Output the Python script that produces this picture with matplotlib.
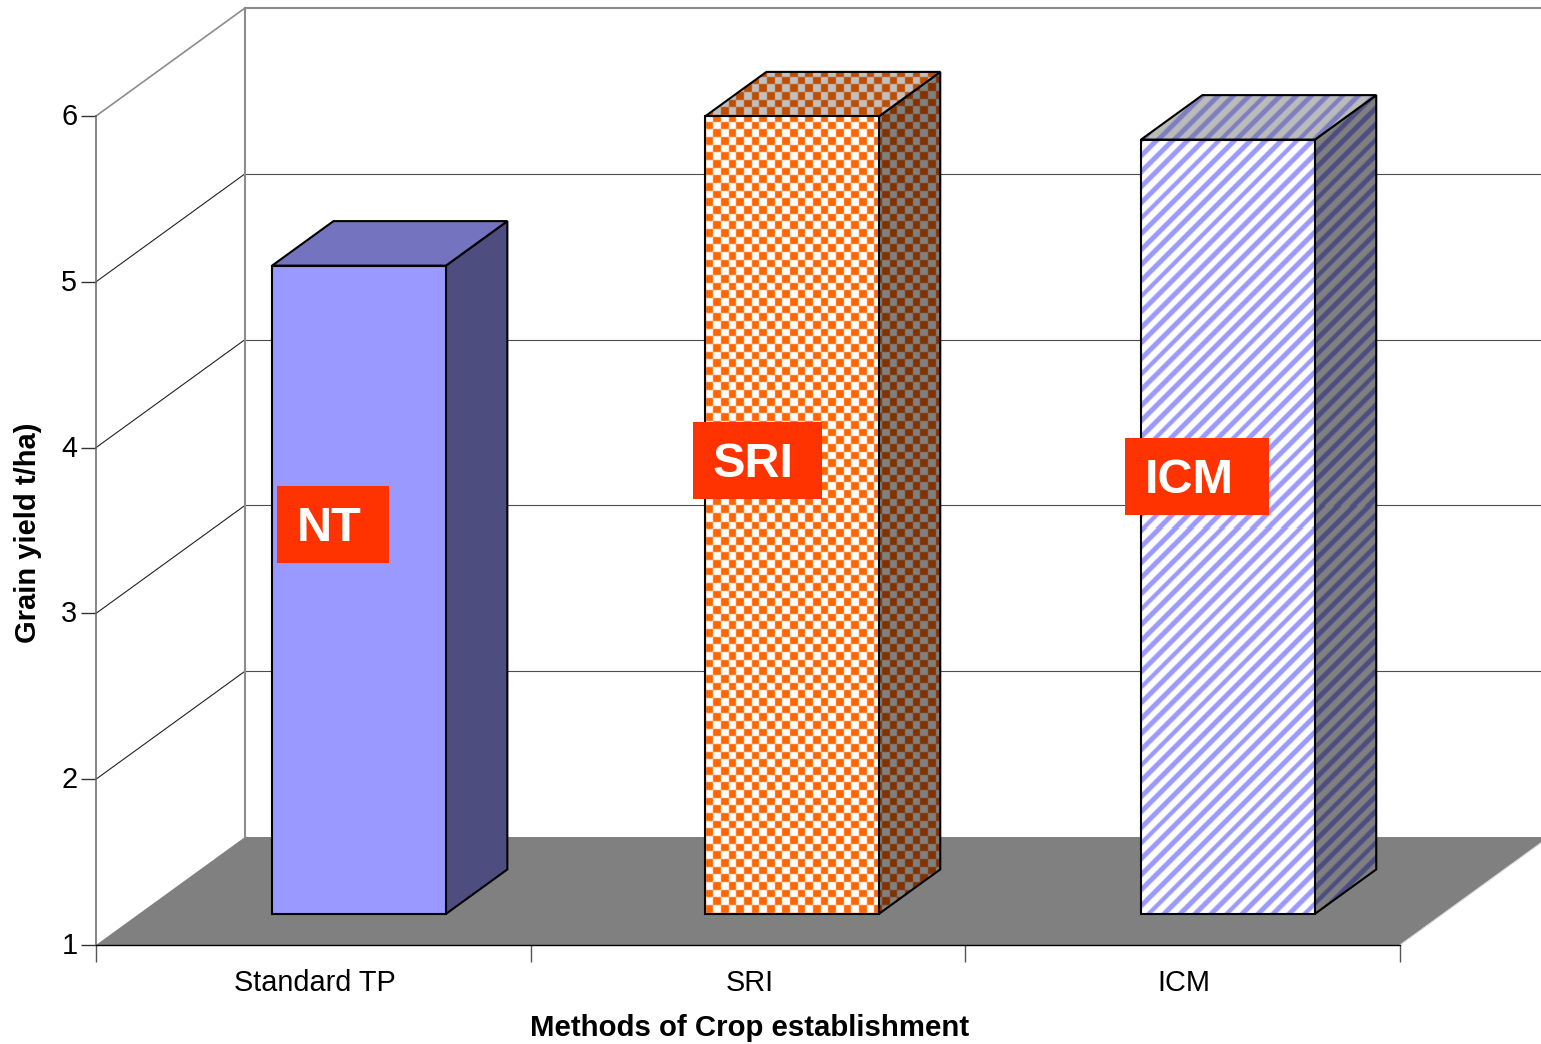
import numpy as np
import matplotlib
matplotlib.use("Agg")
import matplotlib.pyplot as plt
from matplotlib.patches import Polygon, Rectangle
from matplotlib.transforms import Affine2D, ScaledTranslation

plt.rcParams["font.family"] = ["Liberation Sans", "DejaVu Sans"]

categories = ["Standard TP", "SRI", "ICM"]
grain_yield = [4.91, 5.81, 5.67]
bar_tags = ["NT", "SRI", "ICM"]
y_ticks = [1, 2, 3, 4, 5, 6]

W, H = 1541, 1044
fig = plt.figure(figsize=(W / 100, H / 100), dpi=100, facecolor="white")
ax = fig.add_axes([96 / W, 1 - 945 / H, 1304 / W, 829 / H])
ax.set_xlim(0, 3)
ax.set_ylim(1, 6)
ax.patch.set_visible(False)

# Oblique projection: full floor depth expressed in data units
DEPTH_X = 149 / (1304 / 3)
DEPTH_Y = 108 / (829 / 5)
BAR_WIDTH = 0.4
BAR_CENTERS = [0.5064, 1.5024, 2.5054]
FRONT, BACK = 0.288, 0.70

GRID = "#4d4d4d"
WALL = "#8c8c8c"


def shifted(x, y, d):
    return x + d * DEPTH_X, y + d * DEPTH_Y


# Floor
ax.add_patch(Polygon([shifted(0, 1, 0), shifted(3, 1, 0), shifted(3, 1, 1), shifted(0, 1, 1)],
                     closed=True, fc="#808080", ec="none", clip_on=False, zorder=1))

# Back wall and side wall lines
for v in y_ticks[1:]:
    x0, y0 = shifted(0, v, 1)
    x1, y1 = shifted(3, v, 1)
    top = v == y_ticks[-1]
    if not top:
        ax.plot([x0, x1], [y0, y1], color=GRID, lw=0.8, clip_on=False, zorder=1.5)
    ax.plot([0, x0], [v, y0], color=WALL if top else "#222222", lw=1.2 if top else 0.8,
            clip_on=False, zorder=1.5)
bx, by = shifted(0, 1, 1)
topx, topy = shifted(0, y_ticks[-1], 1)
ax.plot([bx, topx], [by, topy], color=WALL, lw=1.5, clip_on=False, zorder=1.5)
ax.plot([topx, shifted(3, 6, 1)[0]], [topy, topy], color=WALL, lw=1.5, clip_on=False, zorder=1.6)
ax.plot(*zip(shifted(3, 1, 0), shifted(3, 1, 1)), color="#d9d9d9", lw=0.8, clip_on=False, zorder=1.5)


def checker(px, py):
    c = 7.67
    return (((px // c + py // c) % 2) == 0).astype(float)


def stripes(px, py):
    return (((px + py) % 15.6) < 6.8).astype(float)


def flat(px, py):
    return np.ones_like(px, dtype=float)


def soften(mask):
    """Light 3-tap smoothing so the pattern edges are not razor sharp."""
    kernel = (0.15, 0.7, 0.15)
    out = mask
    for axis in (0, 1):
        out = (kernel[0] * np.roll(out, 1, axis) + kernel[1] * out
               + kernel[2] * np.roll(out, -1, axis))
    return out


def textured_face(verts, pattern, ink, paper, z):
    """Fill a polygon with a pixel-aligned two-colour pattern."""
    verts = np.asarray(verts)
    to_px = ax.transData
    pts = to_px.transform(verts)
    x0, x1 = int(np.floor(pts[:, 0].min())), int(np.ceil(pts[:, 0].max()))
    y0, y1 = int(np.floor(pts[:, 1].min())), int(np.ceil(pts[:, 1].max()))
    xs, ys = np.meshgrid(np.arange(x0, x1) + 0.5, H - (np.arange(y1, y0, -1) - 0.5))
    mask = soften(pattern(xs, ys))[..., None]
    ink_rgb = np.array(matplotlib.colors.to_rgb(ink))
    paper_rgb = np.array(matplotlib.colors.to_rgb(paper))
    tex = mask * ink_rgb + (1 - mask) * paper_rgb
    (dx0, dy0), (dx1, dy1) = to_px.inverted().transform([(x0, y0), (x1, y1)])
    im = ax.imshow(tex, extent=(dx0, dx1, dy0, dy1), origin="upper", aspect="auto",
                   interpolation="nearest", zorder=z)
    outline = Polygon(verts, closed=True, fc="none", ec="black", lw=1.5, joinstyle="miter",
                      clip_on=False, zorder=z + 0.1)
    ax.add_patch(outline)
    im.set_clip_path(outline)
    im.set_clip_box(fig.bbox)


styles = [
    (flat, ("#9999ff", "#9999ff"), ("#7373bf", "#7373bf"), ("#4d4d80", "#4d4d80")),
    (checker, ("#ff6600", "#ffffff"), ("#bf4d00", "#c0c0c0"), ("#803300", "#808080")),
    (stripes, ("#9999ff", "#ffffff"), ("#7f7fbf", "#bbbbbb"), ("#4d4d80", "#808080")),
]

for i, (val, style) in enumerate(zip(grain_yield, styles)):
    pattern, front_c, top_c, side_c = style
    left = BAR_CENTERS[i] - BAR_WIDTH / 2
    right = left + BAR_WIDTH
    z = 3 + i
    f = shifted
    textured_face([f(right, 1, FRONT), f(right, 1, BACK), f(right, val, BACK),
                   f(right, val, FRONT)], pattern, *side_c, z)
    textured_face([f(left, val, FRONT), f(right, val, FRONT), f(right, val, BACK),
                   f(left, val, BACK)], pattern, *top_c, z + 0.2)
    textured_face([f(left, 1, FRONT), f(right, 1, FRONT), f(right, val, FRONT),
                   f(left, val, FRONT)], pattern, *front_c, z + 0.4)

ax.set_xlim(0, 3)
ax.set_ylim(1, 6)

# Axes furniture
for side in ("top", "right"):
    ax.spines[side].set_visible(False)
ax.spines["left"].set_color("#666666")
ax.spines["left"].set_linewidth(1.1)
ax.spines["bottom"].set_color("black")
ax.spines["bottom"].set_linewidth(1.0)
ax.spines["left"].set_zorder(2)
ax.spines["bottom"].set_zorder(2)

ax.set_yticks(y_ticks)
ax.tick_params(axis="y", length=11, width=1, color="#333333", labelsize=20.8, pad=2.4)
ax.set_xticks([0, 1, 2, 3])
ax.set_xticklabels([])
ax.tick_params(axis="x", which="major", length=12, width=1, color="#555555")
ax.set_xticks([0.5, 1.5, 2.5], minor=True)
ax.set_xticklabels(categories, minor=True, fontsize=20.8)
ax.tick_params(axis="x", which="minor", length=0, pad=17.3)

# Small pixel nudges for the tick labels
up = ScaledTranslation(0, 2 / 100, fig.dpi_scale_trans)
for lab in ax.get_yticklabels():
    lab.set_transform(lab.get_transform() + up)
over = ScaledTranslation(1.5 / 100, 0, fig.dpi_scale_trans)
for lab in ax.get_xticklabels(minor=True):
    lab.set_transform(lab.get_transform() + over)

# Axis titles placed in pixel space
px = Affine2D().scale(1, -1).translate(0, H)
fig.text(750, 1028, "Methods of Crop establishment", transform=px, fontsize=21.2, fontweight="bold",
         ha="center", va="center")
fig.text(28, 533, "Grain yield t/ha)", transform=px, fontsize=21, fontweight="bold",
         rotation=90, ha="center", va="center")

# Red method tags
tag_boxes = [(277, 486, 112, 77, 297), (693, 422, 129, 77, 713), (1125, 438, 144, 77, 1145)]
for tag, (bx0, by0, bw, bh, tx0) in zip(bar_tags, tag_boxes):
    fig.add_artist(Rectangle((bx0, by0), bw, bh, transform=px, fc="#ff3300", ec="none", zorder=20))
    fig.text(tx0, by0 + bh / 2 - 1, tag, transform=px, color="white", fontsize=35,
             fontweight="bold", ha="left", va="center_baseline", zorder=21)

fig.savefig("out.png", dpi=100, facecolor="white")
